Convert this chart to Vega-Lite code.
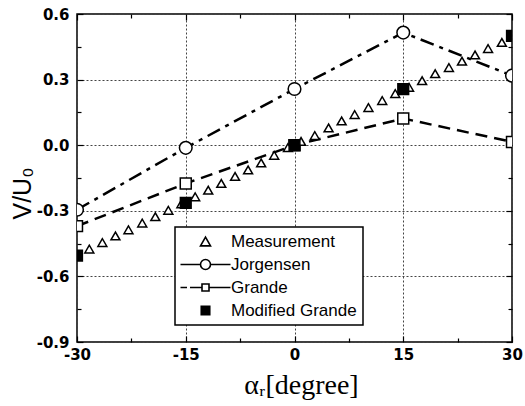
{
  "$schema": "https://vega.github.io/schema/vega-lite/v6.json",
  "width": 435,
  "height": 328,
  "autosize": {"type": "none"},
  "padding": {"left": 77, "top": 14, "right": 13, "bottom": 64},
  "background": "white",
  "data": {
    "values": [
      {"series": "Measurement", "x": -28.3, "y": -0.475},
      {"series": "Measurement", "x": -26.5, "y": -0.445},
      {"series": "Measurement", "x": -24.7, "y": -0.415},
      {"series": "Measurement", "x": -22.9, "y": -0.387},
      {"series": "Measurement", "x": -21.0, "y": -0.356},
      {"series": "Measurement", "x": -19.2, "y": -0.327},
      {"series": "Measurement", "x": -17.4, "y": -0.298},
      {"series": "Measurement", "x": -15.6, "y": -0.268},
      {"series": "Measurement", "x": -13.7, "y": -0.236},
      {"series": "Measurement", "x": -11.9, "y": -0.206},
      {"series": "Measurement", "x": -10.1, "y": -0.175},
      {"series": "Measurement", "x": -8.2, "y": -0.143},
      {"series": "Measurement", "x": -6.4, "y": -0.113},
      {"series": "Measurement", "x": -4.6, "y": -0.081},
      {"series": "Measurement", "x": -2.8, "y": -0.046},
      {"series": "Measurement", "x": -0.9, "y": -0.011},
      {"series": "Measurement", "x": 0.9, "y": 0.017},
      {"series": "Measurement", "x": 2.8, "y": 0.044},
      {"series": "Measurement", "x": 4.7, "y": 0.079},
      {"series": "Measurement", "x": 6.5, "y": 0.111},
      {"series": "Measurement", "x": 8.3, "y": 0.140},
      {"series": "Measurement", "x": 10.2, "y": 0.172},
      {"series": "Measurement", "x": 12.1, "y": 0.204},
      {"series": "Measurement", "x": 13.9, "y": 0.236},
      {"series": "Measurement", "x": 15.8, "y": 0.265},
      {"series": "Measurement", "x": 17.6, "y": 0.295},
      {"series": "Measurement", "x": 19.4, "y": 0.327},
      {"series": "Measurement", "x": 21.3, "y": 0.355},
      {"series": "Measurement", "x": 23.1, "y": 0.384},
      {"series": "Measurement", "x": 24.9, "y": 0.413},
      {"series": "Measurement", "x": 26.7, "y": 0.442},
      {"series": "Measurement", "x": 28.6, "y": 0.470},
      {"series": "Jorgensen", "x": -30, "y": -0.295},
      {"series": "Jorgensen", "x": -15, "y": -0.012},
      {"series": "Jorgensen", "x": 0, "y": 0.257},
      {"series": "Jorgensen", "x": 15, "y": 0.515},
      {"series": "Jorgensen", "x": 30, "y": 0.318},
      {"series": "Grande", "x": -30, "y": -0.37},
      {"series": "Grande", "x": -15, "y": -0.175},
      {"series": "Grande", "x": 0, "y": 0.0},
      {"series": "Grande", "x": 15, "y": 0.122},
      {"series": "Grande", "x": 30, "y": 0.015},
      {"series": "Modified Grande", "x": -30, "y": -0.505},
      {"series": "Modified Grande", "x": -15, "y": -0.264},
      {"series": "Modified Grande", "x": 0, "y": 0.0},
      {"series": "Modified Grande", "x": 15, "y": 0.256},
      {"series": "Modified Grande", "x": 30, "y": 0.5}
    ]
  },
  "resolve": {"axis": {"x": "independent", "y": "independent"}},
  "layer": [
    {
      "transform": [{"filter": "datum.series === 'Jorgensen'"}],
      "mark": {"type": "line", "stroke": "black", "strokeWidth": 2.5, "strokeDash": [14, 6, 4, 6], "clip": true},
      "encoding": {
        "x": {
          "field": "x", "type": "quantitative",
          "scale": {"domain": [-30, 30], "nice": false, "zero": false},
          "axis": {
            "orient": "bottom", "values": [-30, -15, 0, 15, 30], "ticks": false, "domain": false,
            "grid": false,
            "labelFont": "DejaVu Sans", "labelFontWeight": "bold", "labelFontSize": 15, "labelColor": "black",
            "labelPadding": 5, "labelFlush": false,
            "labelExpr": "replace(datum.label, '−', '-')",
            "title": "αᵣ[degree]", "titleFont": "Liberation Serif", "titleFontSize": 28, "titleFontWeight": "normal",
            "titleColor": "black", "titleX": 224, "titleY": 51, "titleBaseline": "alphabetic"
          }
        },
        "y": {
          "field": "y", "type": "quantitative",
          "scale": {"domain": [-0.9, 0.6], "nice": false, "zero": false},
          "axis": {
            "orient": "left", "values": [-0.9, -0.6, -0.3, 0, 0.3, 0.6], "format": ".1f", "ticks": false, "domain": false,
            "grid": false,
            "labelFont": "DejaVu Sans", "labelFontWeight": "bold", "labelFontSize": 15, "labelColor": "black",
            "labelPadding": 8, "labelFlush": false,
            "labelExpr": "replace(datum.label, '−', '-')",
            "title": "V/U₀", "titleFont": "Liberation Sans", "titleFontSize": 25, "titleFontWeight": "normal",
            "titleColor": "black", "titleX": -55, "titleY": 179, "titleAngle": -90, "titleAlign": "center", "titleBaseline": "middle"
          }
        }
      }
    },
    {
      "transform": [{"filter": "datum.series === 'Grande'"}],
      "mark": {"type": "line", "stroke": "black", "strokeWidth": 2.5, "strokeDash": [12, 7], "clip": true},
      "encoding": {
        "x": {
          "field": "x", "type": "quantitative",
          "axis": {
            "orient": "top", "values": [-30, -22.5, -15, -7.5, 0, 7.5, 15, 22.5, 30],
            "labels": false, "domain": false, "title": null,
            "grid": true, "gridColor": "#444", "gridDash": [2, 2], "gridWidth": 1,
            "gridOpacity": {"condition": {"test": "abs(round(datum.value / 7.5)) % 2 === 0", "value": 1}, "value": 0},
            "ticks": true, "tickColor": "black", "tickWidth": 1.2,
            "tickSize": {"condition": {"test": "abs(round(datum.value / 7.5)) % 2 === 0", "value": -6}, "value": -4}
          }
        },
        "y": {
          "field": "y", "type": "quantitative",
          "axis": {
            "orient": "right", "values": [-0.9, -0.75, -0.6, -0.45, -0.3, -0.15, 0, 0.15, 0.3, 0.45, 0.6],
            "labels": false, "domain": false, "title": null,
            "grid": true, "gridColor": "#444", "gridDash": [2, 2], "gridWidth": 1,
            "gridOpacity": {"condition": {"test": "abs(round(datum.value / 0.15)) % 2 === 0", "value": 1}, "value": 0},
            "ticks": true, "tickColor": "black", "tickWidth": 1.2,
            "tickSize": {"condition": {"test": "abs(round(datum.value / 0.15)) % 2 === 0", "value": -6}, "value": -4}
          }
        }
      }
    },
    {
      "transform": [{"filter": "datum.series === 'Jorgensen' || datum.series === 'Grande'"}],
      "mark": {"type": "point", "filled": true, "fill": "white", "stroke": "black", "strokeWidth": 1.5, "opacity": 1, "clip": true},
      "encoding": {
        "x": {
          "field": "x", "type": "quantitative",
          "axis": {
            "orient": "bottom", "values": [-30, -22.5, -15, -7.5, 0, 7.5, 15, 22.5, 30],
            "labels": false, "domain": false, "grid": false, "title": null,
            "ticks": true, "tickColor": "black", "tickWidth": 1.2,
            "tickSize": {"condition": {"test": "abs(round(datum.value / 7.5)) % 2 === 0", "value": -6}, "value": -4}
          }
        },
        "y": {
          "field": "y", "type": "quantitative",
          "axis": {
            "orient": "left", "values": [-0.9, -0.75, -0.6, -0.45, -0.3, -0.15, 0, 0.15, 0.3, 0.45, 0.6],
            "labels": false, "domain": false, "grid": false, "title": null,
            "ticks": true, "tickColor": "black", "tickWidth": 1.2,
            "tickSize": {"condition": {"test": "abs(round(datum.value / 0.15)) % 2 === 0", "value": -6}, "value": -4}
          }
        },
        "shape": {"condition": {"test": "datum.series === 'Jorgensen'", "value": "circle"}, "value": "square"},
        "size": {"condition": {"test": "datum.series === 'Jorgensen'", "value": 160}, "value": 120}
      }
    },
    {
      "transform": [{"filter": "datum.series === 'Measurement' || datum.series === 'Modified Grande'"}],
      "mark": {"type": "point", "filled": false, "strokeWidth": 1.5, "opacity": 1, "clip": true},
      "encoding": {
        "x": {"field": "x", "type": "quantitative", "axis": null},
        "y": {"field": "y", "type": "quantitative", "axis": null},
        "shape": {
          "field": "series", "type": "nominal",
          "scale": {
            "domain": ["Measurement", "Jorgensen", "Grande", "Modified Grande"],
            "range": [
              "triangle-up",
              "M-5,0H-1M1,0H5M-1,0A1,1 0 1,1 1,0A1,1 0 1,1 -1,0Z",
              "M-5,0H-3.7M-3.1,0H-0.7M0.7,0H5M-0.7,-0.7H0.7V0.7H-0.7Z",
              "M-0.85,-0.85H0.85V0.85H-0.85Z"
            ]
          },
          "legend": {
            "orient": "none", "legendX": 98, "legendY": 213, "title": null,
            "labelFont": "Liberation Sans", "labelFontSize": 17, "labelColor": "black",
            "symbolSize": 100, "symbolStrokeWidth": 1.6,
            "symbolOffset": 16, "labelOffset": 17, "rowPadding": 5
          }
        },
        "fill": {
          "field": "series", "type": "nominal",
          "scale": {"domain": ["Measurement", "Jorgensen", "Grande", "Modified Grande"], "range": ["white", "white", "white", "black"]}
        },
        "stroke": {
          "field": "series", "type": "nominal",
          "scale": {"domain": ["Measurement", "Jorgensen", "Grande", "Modified Grande"], "range": ["black", "black", "black", "black"]}
        },
        "size": {"condition": {"test": "datum.series === 'Measurement'", "value": 80}, "value": 160}
      }
    }
  ],
  "config": {
    "view": {"stroke": "black", "strokeWidth": 1.5},
    "axis": {"domain": false, "labelColor": "black", "tickColor": "black", "titleColor": "black"},
    "legend": {"strokeColor": "black", "strokeWidth": 1.5, "fillColor": "white", "padding": 6}
  }
}
